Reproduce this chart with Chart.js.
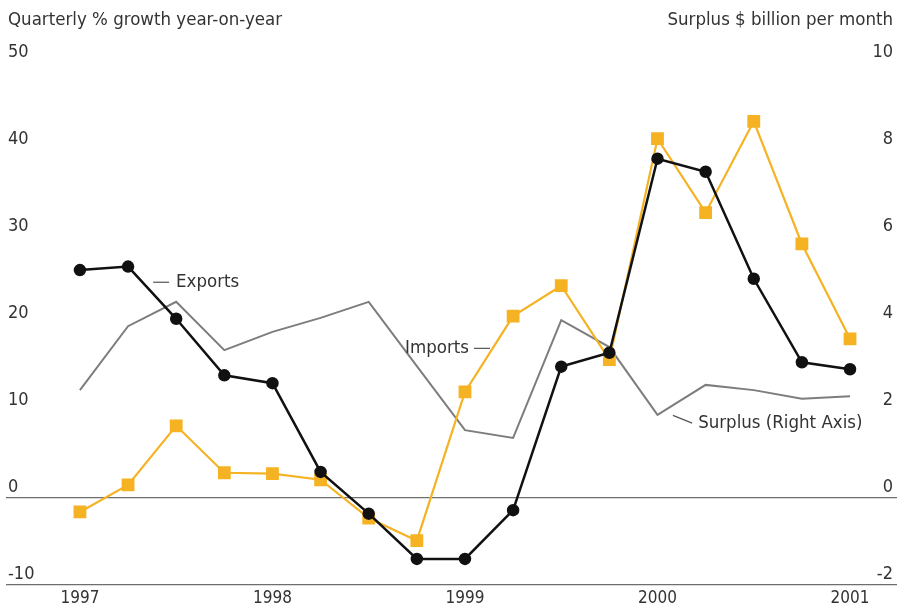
<!DOCTYPE html>
<html lang="en">
<head>
    <meta charset="UTF-8">
    <title>Exports, imports and surplus</title>
    <script src="https://cdn.jsdelivr.net/npm/chart.js"></script>
    <style>
        body {
            margin: 0;
            padding: 0;
            background: #fff;
        }

        .chart-box {
            width: 897px;
            height: 607px;
        }
    </style>
</head>
<body>

    <div class="chart-box">
        <canvas id="tradeChart" width="897" height="607"></canvas>
    </div>

    <script>
        // Quarters, 1997 Q1 to 2001 Q1
        const quarters = ['1997 Q1', '1997 Q2', '1997 Q3', '1997 Q4',
                          '1998 Q1', '1998 Q2', '1998 Q3', '1998 Q4',
                          '1999 Q1', '1999 Q2', '1999 Q3', '1999 Q4',
                          '2000 Q1', '2000 Q2', '2000 Q3', '2000 Q4',
                          '2001 Q1'];
        // % growth year-on-year (left axis)
        const exportsGrowth = [26.2, 26.6, 20.6, 14.1, 13.2, 3.0, -1.8, -7.0, -7.0,
                               -1.4, 15.1, 16.7, 39.0, 37.5, 25.2, 15.6, 14.8];
        const importsGrowth = [-1.6, 1.5, 8.3, 2.9, 2.8, 2.1, -2.3, -4.9, 12.2,
                               20.9, 24.4, 15.9, 41.3, 32.8, 43.3, 29.2, 18.3];
        // $ billion per month (right axis)
        const surplus = [2.48, 3.95, 4.51, 3.40, 3.82, 4.14, 4.51, 3.03, 1.56,
                         1.38, 4.09, 3.47, 1.91, 2.60, 2.48, 2.28, 2.34];
        const yearTicks = [1997, 1998, 1999, 2000, 2001];

        const FONT = '"Liberation Sans Narrow", "DejaVu Sans Condensed", "Roboto", sans-serif';
        const TEXT = '#333';

        const toX = q => {
            const [yr, qq] = q.split(' Q');
            return Number(yr) + (Number(qq) - 1) / 4;
        };
        const points = vals => vals.map((v, i) => ({ x: toX(quarters[i]), y: v }));

        // Titles and the line labels
        const textPlugin = {
            id: 'texts',
            afterDatasetsDraw(chart) {
                const ctx = chart.ctx;
                const x = chart.scales.x, yl = chart.scales.y, yr = chart.scales.y2;
                ctx.save();
                ctx.fillStyle = TEXT;
                ctx.strokeStyle = '#555';
                ctx.lineWidth = 1.2;
                ctx.font = '18.5px ' + FONT;
                ctx.textBaseline = 'middle';

                ctx.textAlign = 'left';
                ctx.fillText('Quarterly % growth year-on-year', 8, 20);
                ctx.textAlign = 'right';
                ctx.fillText('Surplus $ billion per month', 893, 20);

                // Exports
                let px = x.getPixelForValue(1997.38), py = yl.getPixelForValue(24.8);
                ctx.beginPath(); ctx.moveTo(px, py); ctx.lineTo(px + 16, py); ctx.stroke();
                ctx.textAlign = 'left';
                ctx.fillText('Exports', px + 23, py);

                // Imports
                px = x.getPixelForValue(1999.13); py = yl.getPixelForValue(17.2);
                ctx.beginPath(); ctx.moveTo(px - 16, py); ctx.lineTo(px, py); ctx.stroke();
                ctx.textAlign = 'right';
                ctx.fillText('Imports', px - 21, py);

                // Surplus
                px = x.getPixelForValue(2000.08); py = yr.getPixelForValue(1.9);
                const ex = x.getPixelForValue(2000.18), ey = yr.getPixelForValue(1.72);
                ctx.beginPath(); ctx.moveTo(px, py); ctx.lineTo(ex, ey); ctx.stroke();
                ctx.textAlign = 'left';
                ctx.fillText('Surplus (Right Axis)', ex + 6, ey);
                ctx.restore();
            }
        };

        new Chart(document.getElementById('tradeChart').getContext('2d'), {
            type: 'line',
            data: {
                datasets: [
                    {
                        label: 'Exports',
                        data: points(exportsGrowth),
                        borderColor: '#111',
                        backgroundColor: '#111',
                        borderWidth: 2.5,
                        pointStyle: 'circle',
                        pointRadius: 5,
                        yAxisID: 'y',
                        order: 0
                    },
                    {
                        label: 'Imports',
                        data: points(importsGrowth),
                        borderColor: '#F5B223',
                        backgroundColor: '#F5B223',
                        borderWidth: 2.2,
                        pointStyle: 'rect',
                        pointRadius: 7.5,
                        yAxisID: 'y',
                        order: 1
                    },
                    {
                        label: 'Surplus (Right Axis)',
                        data: points(surplus),
                        borderColor: '#7d7d7d',
                        borderWidth: 2,
                        pointRadius: 0,
                        yAxisID: 'y2',
                        order: 2
                    }
                ]
            },
            options: {
                responsive: false,
                animation: false,
                layout: { autoPadding: false, padding: { top: 63, left: 6, right: 0, bottom: 0 } },
                plugins: {
                    legend: { display: false },
                    tooltip: { enabled: false }
                },
                scales: {
                    x: {
                        type: 'linear',
                        min: 1996.616,
                        max: 2001.244,
                        afterBuildTicks: s => { s.ticks = yearTicks.map(v => ({ value: v })); },
                        afterFit: s => { s.height = 22; s.paddingLeft = 0; s.paddingRight = 0; },
                        grid: { display: false, drawTicks: false },
                        border: { display: false },
                        ticks: {
                            color: TEXT,
                            font: { family: FONT, size: 17 },
                            padding: 3,
                            callback: v => String(v)
                        }
                    },
                    y: {
                        position: 'left',
                        min: -10,
                        max: 50,
                        afterFit: s => { s.width = 0; s.paddingTop = 0; s.paddingBottom = 0; },
                        border: { display: false },
                        grid: {
                            drawTicks: false,
                            color: c => (c.tick && (c.tick.value === 0 || c.tick.value === -10)) ? '#6e6e6e' : 'rgba(0,0,0,0)',
                            lineWidth: 1.3
                        },
                        ticks: {
                            stepSize: 10,
                            mirror: true,
                            padding: 2,
                            labelOffset: -11,
                            color: TEXT,
                            font: { family: FONT, size: 18 }
                        }
                    },
                    y2: {
                        position: 'right',
                        min: -2,
                        max: 10,
                        afterFit: s => { s.width = 0; s.paddingTop = 0; s.paddingBottom = 0; },
                        border: { display: false },
                        grid: { display: false, drawTicks: false },
                        ticks: {
                            stepSize: 2,
                            mirror: true,
                            padding: -4,
                            labelOffset: -11,
                            color: TEXT,
                            font: { family: FONT, size: 18 }
                        }
                    }
                }
            },
            plugins: [textPlugin]
        });
    </script>

</body>
</html>
